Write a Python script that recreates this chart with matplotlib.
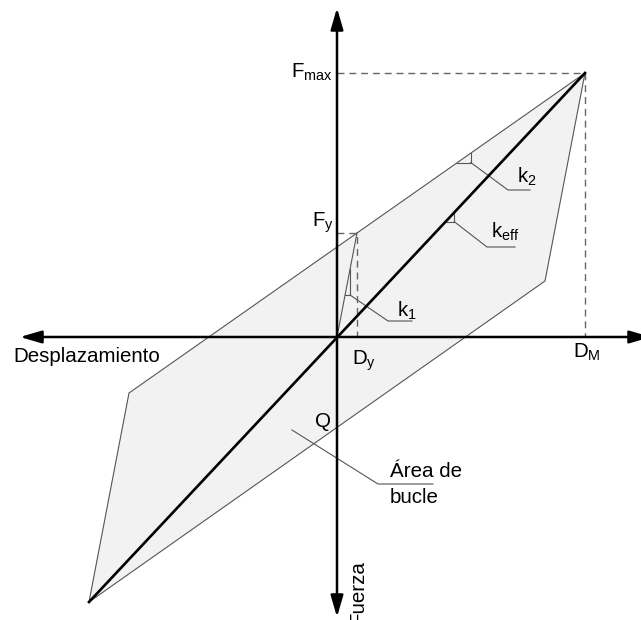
import matplotlib.pyplot as plt

plt.rcParams['font.family'] = ['Liberation Sans', 'DejaVu Sans']
plt.rcParams['mathtext.fontset'] = 'custom'
plt.rcParams['mathtext.rm'] = 'Liberation Sans'
plt.rcParams['mathtext.it'] = 'Liberation Sans:italic'

# valores del diagrama (desplazamiento, fuerza) en unidades de dibujo
d_max, f_max = 248, 264
d_y, f_y = 20, 104
loop_d = [248, 208, -248, -208]
loop_f = [264, 56, -265, -56]
q_d, q_f = 0, -91

fs = 14.8
grey = '#555555'

fig = plt.figure(figsize=(6.41, 6.2), dpi=100)
ax = fig.add_axes([0, 0, 1, 1])
ax.set_xlim(-337, 304)
ax.set_ylim(-283, 337)
ax.axis('off')

# lazo de histeresis
ax.fill(loop_d, loop_f, facecolor='#f2f2f2', edgecolor=grey, lw=0.8, zorder=1)
# rama inicial
ax.plot([0, d_y], [0, f_y], color=grey, lw=0.8, zorder=2)
# rigidez efectiva
ax.plot([loop_d[2], loop_d[0]], [loop_f[2], loop_f[0]], color='k', lw=1.9,
        zorder=4)

# lineas discontinuas
dash = dict(color='#666666', lw=1.0, ls=(0, (5, 3.5)), zorder=2)
ax.plot([0, d_max, d_max], [f_max, f_max, 0], **dash)
ax.plot([0, d_y, d_y], [f_y, f_y, 0], **dash)

# ejes con flechas
arr = dict(arrowstyle='-|>,head_length=13,head_width=3.8', color='k', lw=1.8,
           mutation_scale=1, shrinkA=0, shrinkB=0)
ax.annotate('', xy=(-317, 0), xytext=(0, 0), arrowprops=arr, zorder=5)
ax.annotate('', xy=(314, 0), xytext=(0, 0), arrowprops=arr, zorder=5,
            annotation_clip=False)
ax.annotate('', xy=(0, 329), xytext=(0, 0), arrowprops=arr, zorder=5)
ax.annotate('', xy=(0, -280), xytext=(0, 0), arrowprops=arr, zorder=5)

# triangulos de pendiente y lineas de referencia
slope_up = (loop_f[0] - loop_f[3]) / (loop_d[0] - loop_d[3])
slope_eff = (loop_f[0] - loop_f[2]) / (loop_d[0] - loop_d[2])
k1_f = 42
k1_d = k1_f * d_y / f_y
ax.plot([k1_d, 13, 13], [k1_f, k1_f, 13 * f_y / d_y], color=grey, lw=0.8, zorder=3)
ax.plot([13, 51, 75], [k1_f, 16, 16], color=grey, lw=0.8, zorder=3)

k2_f = 174.5
k2_d = loop_d[3] + (k2_f - loop_f[3]) / slope_up
k2_x = 133.7
ax.plot([k2_d, k2_x, k2_x], [k2_f, k2_f, loop_f[3] + (k2_x - loop_d[3]) * slope_up],
        color=grey, lw=0.8, zorder=3)
ax.plot([k2_x, 171, 193], [k2_f, 147, 147], color=grey, lw=0.8, zorder=3)

ke_f = 115.3
ke_x = 117.3
ax.plot([ke_f / slope_eff, ke_x, ke_x], [ke_f, ke_f, ke_x * slope_eff],
        color=grey, lw=0.8, zorder=3)
ax.plot([ke_x, 150, 178], [ke_f, 90, 90], color=grey, lw=0.8, zorder=3)

ax.plot([-45, 41, 96], [-93, -147, -147], color=grey, lw=0.8, zorder=3)

# textos
ax.text(-4, 259, r'$\mathrm{F_{max}}$', fontsize=fs, ha='right', va='baseline')
ax.text(-25, 110, r'$\mathrm{F_{y}}$', fontsize=fs, ha='left', va='baseline')
ax.text(15, -28, r'$\mathrm{D_{y}}$', fontsize=fs, ha='left', va='baseline')
ax.text(236, -21, r'$\mathrm{D_{M}}$', fontsize=fs, ha='left', va='baseline')
ax.text(60, 20, r'$\mathrm{k_{1}}$', fontsize=fs, ha='left', va='baseline')
ax.text(180, 154, r'$\mathrm{k_{2}}$', fontsize=fs, ha='left', va='baseline')
ax.text(154, 99, r'$\mathrm{k_{eff}}$', fontsize=fs, ha='left', va='baseline')
ax.text(-22, q_f + 1, 'Q', fontsize=fs, ha='left', va='baseline')
ax.text(53, -140, 'Área de', fontsize=fs, ha='left', va='baseline')
ax.text(53, -166, 'bucle', fontsize=fs, ha='left', va='baseline')
ax.text(-324, -24.7, 'Desplazamiento', fontsize=fs, ha='left', va='baseline')
ax.text(26, -223, 'Fuerza', fontsize=fs, rotation=90, rotation_mode='anchor',
        ha='right', va='baseline')

fig.savefig('out.png', dpi=100)
